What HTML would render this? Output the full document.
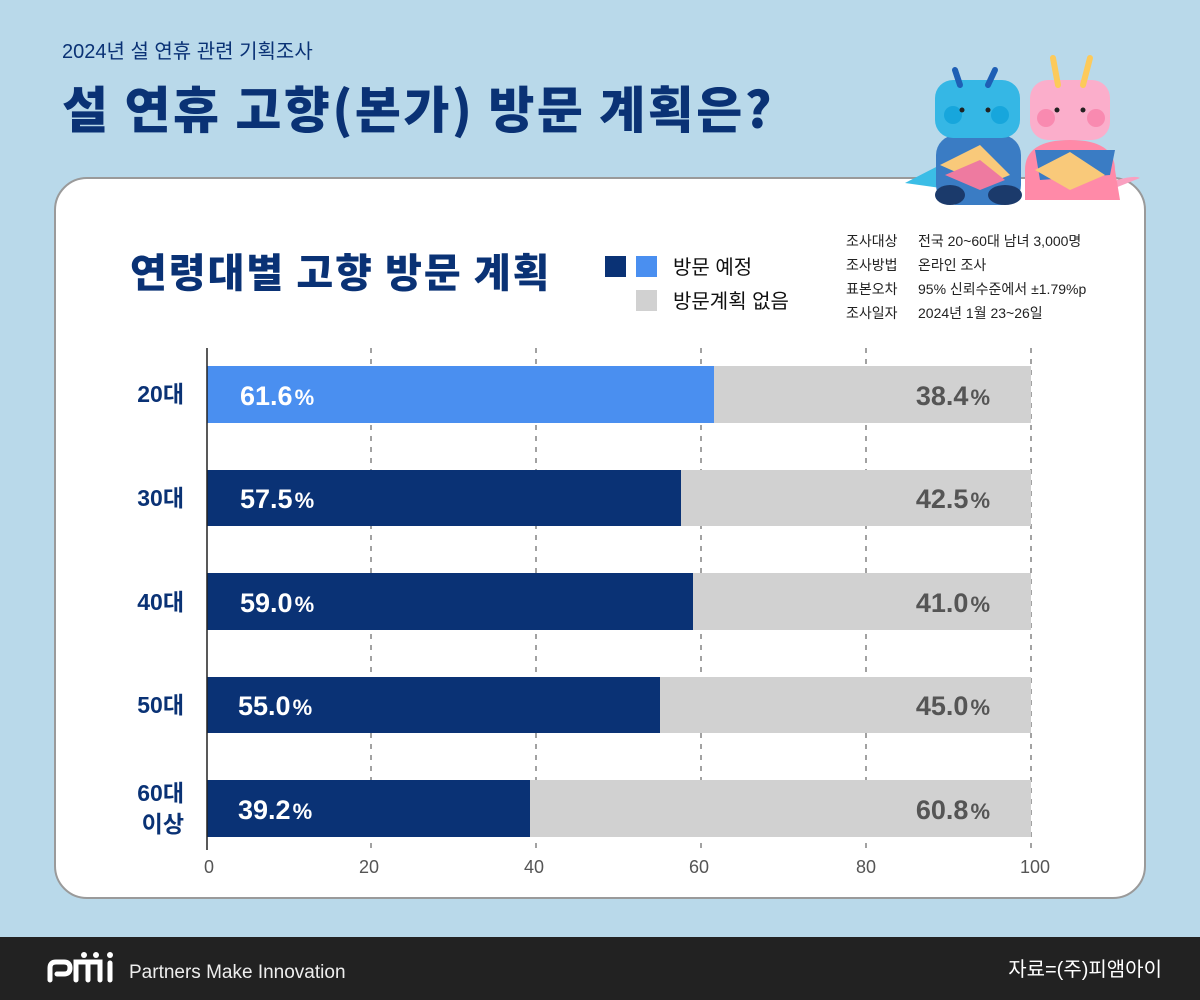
<!DOCTYPE html>
<html><head><meta charset="utf-8"><style>
body{margin:0;width:1200px;height:1000px;overflow:hidden;background:#b9d9ea}
svg{display:block}
text{font-family:"Liberation Sans","Noto Sans CJK KR",sans-serif}
</style></head><body>
<svg width="1200" height="1000" viewBox="0 0 1200 1000">
<rect width="1200" height="1000" fill="#b9d9ea"/>
<text x="62" y="58" font-size="20" fill="#0a3275">2024년 설 연휴 관련 기획조사</text>
<text x="62" y="128" font-size="50" font-weight="900" fill="#0a3275" letter-spacing="2.5" style="font-family:'Noto Sans CJK KR',sans-serif">설 연휴 고향(본가) 방문 계획은?</text>
<rect x="55" y="178" width="1090" height="720" rx="32" fill="#fff" stroke="#9a9a9a" stroke-width="2"/>
<!-- dragons -->
<g>
<path d="M905 183 Q930 170 950 160 L955 190 Z" fill="#3bbde6"/>
<rect x="936" y="135" width="85" height="70" rx="20" fill="#3a7cc4"/>
<ellipse cx="950" cy="195" rx="15" ry="10" fill="#1b3a6b"/><ellipse cx="1005" cy="195" rx="17" ry="10" fill="#1b3a6b"/>
<path d="M940 165 L980 145 L1010 175 L985 185 Z" fill="#f9c97a"/>
<path d="M945 175 L980 160 L1005 180 L980 190 Z" fill="#ee7aa0"/>
<rect x="935" y="80" width="85" height="58" rx="18" fill="#35b7e5"/>
<path d="M955 70 L960 85 M995 70 L988 85" stroke="#1e5fb5" stroke-width="6" stroke-linecap="round"/>
<circle cx="953" cy="115" r="9" fill="#17a6dc"/><circle cx="1000" cy="115" r="9" fill="#17a6dc"/>
<circle cx="962" cy="110" r="2.5" fill="#222"/><circle cx="988" cy="110" r="2.5" fill="#222"/>
<path d="M1117 180 Q1135 175 1140 178 L1110 190 Z" fill="#f9a0c0"/>
<path d="M1025 170 Q1025 140 1070 140 Q1115 140 1115 170 L1120 200 L1025 200 Z" fill="#ff8aa8"/>
<path d="M1035 150 L1115 150 L1110 175 L1040 180 Z" fill="#3a7cc4"/>
<path d="M1035 170 L1070 152 L1105 175 L1070 190 Z" fill="#f9c97a"/>
<rect x="1030" y="80" width="80" height="60" rx="18" fill="#fbaecb"/>
<path d="M1053 58 L1058 85 M1090 58 L1083 85" stroke="#fdca5a" stroke-width="6" stroke-linecap="round"/>
<circle cx="1046" cy="118" r="9" fill="#f98ab0"/><circle cx="1096" cy="118" r="9" fill="#f98ab0"/>
<circle cx="1057" cy="110" r="2.5" fill="#222"/><circle cx="1083" cy="110" r="2.5" fill="#222"/>
</g>
<text x="130" y="287" font-size="40" font-weight="900" fill="#0a3275" letter-spacing="2" style="font-family:'Noto Sans CJK KR',sans-serif">연령대별 고향 방문 계획</text>
<rect x="605" y="256" width="21" height="21" fill="#0a3275"/>
<rect x="636" y="256" width="21" height="21" fill="#4a8ff0"/>
<text x="673" y="274" font-size="20" fill="#111">방문 예정</text>
<rect x="636" y="290" width="21" height="21" fill="#d1d1d1"/>
<text x="673" y="308" font-size="20" fill="#111">방문계획 없음</text>
<g font-size="14" fill="#222">
<text x="846" y="246">조사대상</text><text x="918" y="246">전국 20~60대 남녀 3,000명</text>
<text x="846" y="270">조사방법</text><text x="918" y="270">온라인 조사</text>
<text x="846" y="294">표본오차</text><text x="918" y="294">95% 신뢰수준에서 ±1.79%p</text>
<text x="846" y="318">조사일자</text><text x="918" y="318">2024년 1월 23~26일</text>
</g>
<g stroke="#444" stroke-dasharray="5,6" stroke-width="1">
<line x1="371" y1="348" x2="371" y2="850"/><line x1="536" y1="348" x2="536" y2="850"/>
<line x1="701" y1="348" x2="701" y2="850"/><line x1="866" y1="348" x2="866" y2="850"/>
<line x1="1031" y1="348" x2="1031" y2="850"/>
</g>
<g>
<rect x="207" y="366" width="507" height="57" fill="#4a8ff0"/><rect x="714" y="366" width="317" height="57" fill="#d1d1d1"/>
<rect x="207" y="470" width="474" height="56" fill="#0a3275"/><rect x="681" y="470" width="350" height="56" fill="#d1d1d1"/>
<rect x="207" y="573" width="486" height="57" fill="#0a3275"/><rect x="693" y="573" width="338" height="57" fill="#d1d1d1"/>
<rect x="207" y="677" width="453" height="56" fill="#0a3275"/><rect x="660" y="677" width="371" height="56" fill="#d1d1d1"/>
<rect x="207" y="780" width="323" height="57" fill="#0a3275"/><rect x="530" y="780" width="501" height="57" fill="#d1d1d1"/>
</g>
<line x1="207" y1="348" x2="207" y2="850" stroke="#222" stroke-width="1.5"/>
<g font-size="27" font-weight="bold" fill="#fff">
<text x="240" y="405">61.6<tspan font-size="22" dx="2">%</tspan></text>
<text x="240" y="508">57.5<tspan font-size="22" dx="2">%</tspan></text>
<text x="240" y="612">59.0<tspan font-size="22" dx="2">%</tspan></text>
<text x="238" y="715">55.0<tspan font-size="22" dx="2">%</tspan></text>
<text x="238" y="819">39.2<tspan font-size="22" dx="2">%</tspan></text>
</g>
<g font-size="27" font-weight="bold" fill="#555" text-anchor="end">
<text x="990" y="405">38.4<tspan font-size="22" dx="2">%</tspan></text>
<text x="990" y="508">42.5<tspan font-size="22" dx="2">%</tspan></text>
<text x="990" y="612">41.0<tspan font-size="22" dx="2">%</tspan></text>
<text x="990" y="715">45.0<tspan font-size="22" dx="2">%</tspan></text>
<text x="990" y="819">60.8<tspan font-size="22" dx="2">%</tspan></text>
</g>
<g font-size="23" font-weight="bold" fill="#0a3275" text-anchor="end">
<text x="184" y="402">20대</text><text x="184" y="506">30대</text><text x="184" y="610">40대</text>
<text x="184" y="713">50대</text><text x="184" y="801">60대</text><text x="184" y="832">이상</text>
</g>
<g font-size="18" fill="#555" text-anchor="middle">
<text x="209" y="873">0</text><text x="369" y="873">20</text><text x="534" y="873">40</text>
<text x="699" y="873">60</text><text x="866" y="873">80</text><text x="1035" y="873">100</text>
</g>
<rect x="0" y="937" width="1200" height="63" fill="#222"/>
<g fill="none" stroke="#fff" stroke-width="5" stroke-linecap="round">
<path d="M50 980 L50 968 Q50 962 56 962 L64 962 Q70 962 70 968 Q70 974 64 974 L57 974"/>
<path d="M76 980 L76 962 L88 962 L100 962 L100 980 M88 962 L88 980"/>
<line x1="110" y1="963" x2="110" y2="980"/>
</g>
<g fill="#fff"><circle cx="84" cy="955" r="3"/><circle cx="96" cy="955" r="3"/><circle cx="110" cy="955" r="3"/></g>
<text x="129" y="978" font-size="19" fill="#eee">Partners Make Innovation</text>
<text x="1162" y="976" font-size="20" fill="#fff" text-anchor="end">자료=(주)피앰아이</text>
</svg>
</body></html>
